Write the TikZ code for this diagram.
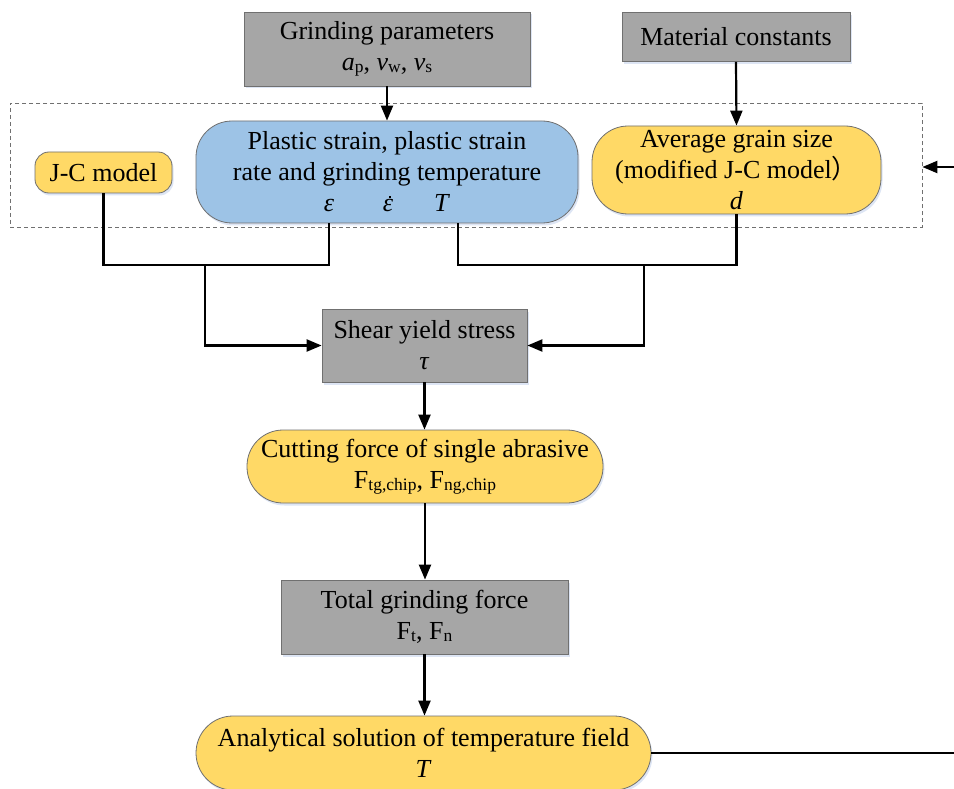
\documentclass[tikz,border=0pt]{standalone}
\usepackage{fontspec}
\setmainfont{Liberation Serif}
\newfontfamily\cjk{Noto Sans CJK SC}
\usetikzlibrary{arrows.meta,shadows}
\definecolor{boxgray}{HTML}{A6A6A6}
\definecolor{boxblue}{HTML}{9DC3E6}
\definecolor{boxyellow}{HTML}{FFD966}
\definecolor{edgegray}{HTML}{707070}
\definecolor{shadowc}{HTML}{B4C7E7}
\newcommand\sbs[1]{\raisebox{-1.5pt}{\fontsize{17.5}{17.5}\selectfont #1}}
\newcommand\epsdot{\ooalign{\textit{ε}\cr\hidewidth\kern0.14em\raisebox{0.52em}{\rule{2.4pt}{2.4pt}}\hidewidth\cr}}
\begin{document}
\begin{tikzpicture}[x=1pt,y=-1pt,
  font=\fontsize{26}{31}\selectfont,
  base/.style={draw=edgegray, line width=0.8pt, align=center, inner sep=0pt,
    drop shadow={fill=shadowc, opacity=0.45, shadow xshift=1.5pt, shadow yshift=-2.5pt}},
  graybox/.style={base, fill=boxgray},
  bluebox/.style={base, fill=boxblue, rounded corners=36pt},
  yellowbox/.style={base, fill=boxyellow},
  conn/.style={line width=2.2pt, black},
  arr/.style={conn, -{Triangle[length=15pt,width=12pt]}}]
\useasboundingbox (0,0) rectangle (954,789);
\clip (0,0) rectangle (954,789);
\fill[white] (0,0) rectangle (954,789);

% dashed group
\node[draw=edgegray, dash pattern=on 4pt off 3pt, line width=0.8pt,
  minimum width=912pt, minimum height=124pt, inner sep=0pt] (grp) at (466,165) {};

% nodes
\node[graybox, minimum width=286pt, minimum height=74pt] (gp) at (387,49)
  {Grinding parameters\\ \textit{a}\sbs{p}, \textit{v}\sbs{w}, \textit{v}\sbs{s}};
\node[graybox, minimum width=228pt, minimum height=49pt] (mc) at (736,37)
  {Material constants};
\node[yellowbox, rounded corners=14pt, minimum width=137pt, minimum height=41pt] (jc) at (103.5,172.5)
  {J-C model};
\node[bluebox, minimum width=382pt, minimum height=102pt] (blue) at (387,172)
  {Plastic strain, plastic strain\\ rate and grinding temperature\\
   \textit{ε}\hspace{49pt}\epsdot\hspace{41pt}\textit{T}};
\node[yellowbox, rounded corners=36pt, minimum width=289pt, minimum height=88pt] (avg) at (736.5,170)
  {Average grain size\\ (modified J-C model{\cjk ）}\\ \textit{d}};
\node[graybox, minimum width=205pt, minimum height=73pt] (shear) at (424.5,345.5)
  {Shear yield stress\\ \textit{τ}};
\node[yellowbox, rounded corners=36pt, minimum width=356pt, minimum height=73pt] (cut) at (425,466.5)
  {Cutting force of single abrasive\\ F\sbs{tg,chip}, F\sbs{ng,chip}};
\node[graybox, minimum width=287pt, minimum height=74pt] (total) at (424.5,617)
  {Total grinding force\\ F\sbs{t}, F\sbs{n}};
\node[yellowbox, rounded corners=37pt, minimum width=455pt, minimum height=74pt] (ana) at (423.5,753)
  {Analytical solution of temperature field\\ \textit{T}};

% junction coordinates
\coordinate (j1) at (329,265);
\coordinate (j2) at (205,265);
\coordinate (j3) at (458,265);
\coordinate (j4) at (644,265);
\coordinate (fb1) at (954,753);
\coordinate (fb2) at (954,167);

% connectors
\draw[arr] (gp.south) -- (blue.north);
\draw[arr] (mc.south) -- (avg.north);
\draw[conn] (jc.south) |- (j1) -- (j1 |- blue.south);
\draw[arr] (j2) |- (shear.west);
\draw[conn] (j3 |- blue.south) -- (j3) -- (j3 -| avg.south) -- (avg.south);
\draw[arr] (j4) |- (shear.east);
\draw[arr] (shear.south) -- (cut.north -| shear.south);
\draw[arr] (cut.south) -- (total.north -| cut.south);
\draw[arr] (total.south) -- (ana.north -| total.south);
\draw[conn] (ana.east) -- (fb1);
\draw[arr] (fb2) -- (grp.east |- fb2);
\end{tikzpicture}
\end{document}
